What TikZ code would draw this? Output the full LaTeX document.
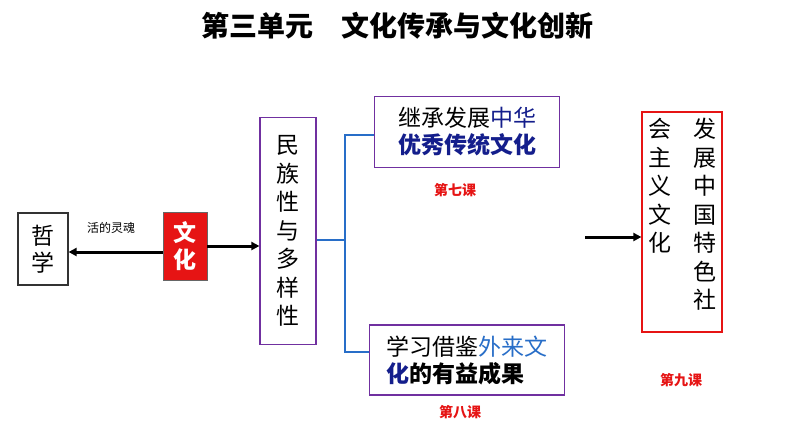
\documentclass[tikz,border=0pt]{standalone}
\usepackage{fontspec}
\setmainfont{Noto Sans CJK SC}
\usetikzlibrary{positioning,arrows.meta}
\definecolor{dblue}{RGB}{20,30,140}
\definecolor{lblue}{RGB}{40,110,200}
\definecolor{kred}{RGB}{230,20,20}
\definecolor{kpurple}{RGB}{112,48,160}
\tikzstyle{box}=[draw=kpurple,line width=1.2pt,inner sep=0pt]
\tikzstyle{lesson}=[text=kred,font=\fontsize{14}{16}\selectfont\bfseries]
\tikzstyle{big}=[font=\fontsize{23}{27}\selectfont,align=center]
\tikzstyle{go}=[-{Triangle[length=8pt,width=8pt]},line width=3pt]
\tikzstyle{bracket}=[draw=lblue,line width=1.2pt]
\begin{document}
\begin{tikzpicture}[x=1pt,y=-1pt]
  \useasboundingbox[fill=white] (0,0) rectangle (794,447);
  \node[font=\fontsize{28}{30}\selectfont\bfseries] (title) at (397,26) {第三单元\quad 文化传承与文化创新};
  % left part
  \node[draw=black!80,line width=1.2pt,minimum width=50pt,minimum height=72pt,big] (phil) at (43,249) {哲\\学};
  \node[fill=kred,draw=black!60,minimum width=44pt,minimum height=68pt,big,text=white,font=\fontsize{23}{27}\selectfont\bfseries] (cul) at (185,246) {文\\化};
  \draw[go] (cul.west) ++(0,6) coordinate (cw) -- (cw -| phil.east);
  \node[font=\fontsize{12}{14}\selectfont] (soul) at (111,228) {活的灵魂};
  \node[box,minimum width=56pt,minimum height=227pt,big,font=\fontsize{23}{28.5}\selectfont] (nat) at (288,231) {民\\族\\性\\与\\多\\样\\性};
  \draw[go] (cul.east) -- (nat.west |- cul.east);
  % bracket
  \node[box,minimum width=185pt,minimum height=71pt,big,align=left] (inh) at (467,132)
    {继承发展\textcolor{dblue}{中华}\\\textcolor{dblue}{\bfseries 优秀传统文化}};
  \node[box,minimum width=195pt,minimum height=70pt,big,align=left] (learn) at (467,360)
    {学习借鉴\textcolor{lblue}{外来文}\\\textcolor{dblue}{\bfseries 化}\textbf{的有益成果}};
  \node[lesson] (l7) at (455,190) {第七课};
  \node[lesson] (l8) at (460,412) {第八课};
  \coordinate (mid) at (345,240);
  \draw[bracket] (nat.east |- mid) -- (mid);
  \draw[bracket] (inh.west |- 0,135) -- (345,135) -- (345,352) -- (learn.west |- 0,352);
  % right part
  \node[draw=kred,line width=1.2pt,minimum width=80pt,minimum height=220pt] (soc) at (682,222) {};
  \node[big,font=\fontsize{23}{28.5}\selectfont,anchor=north] (c1) at (705,115) {发\\展\\中\\国\\特\\色\\社};
  \node[big,font=\fontsize{23}{28.5}\selectfont,anchor=north] (c2) at (660,115) {会\\主\\义\\文\\化};
  \draw[go] (585,237) -- (soc.west |- 0,237);
  \node[lesson] (l9) at (681,380) {第九课};
\end{tikzpicture}
\end{document}
